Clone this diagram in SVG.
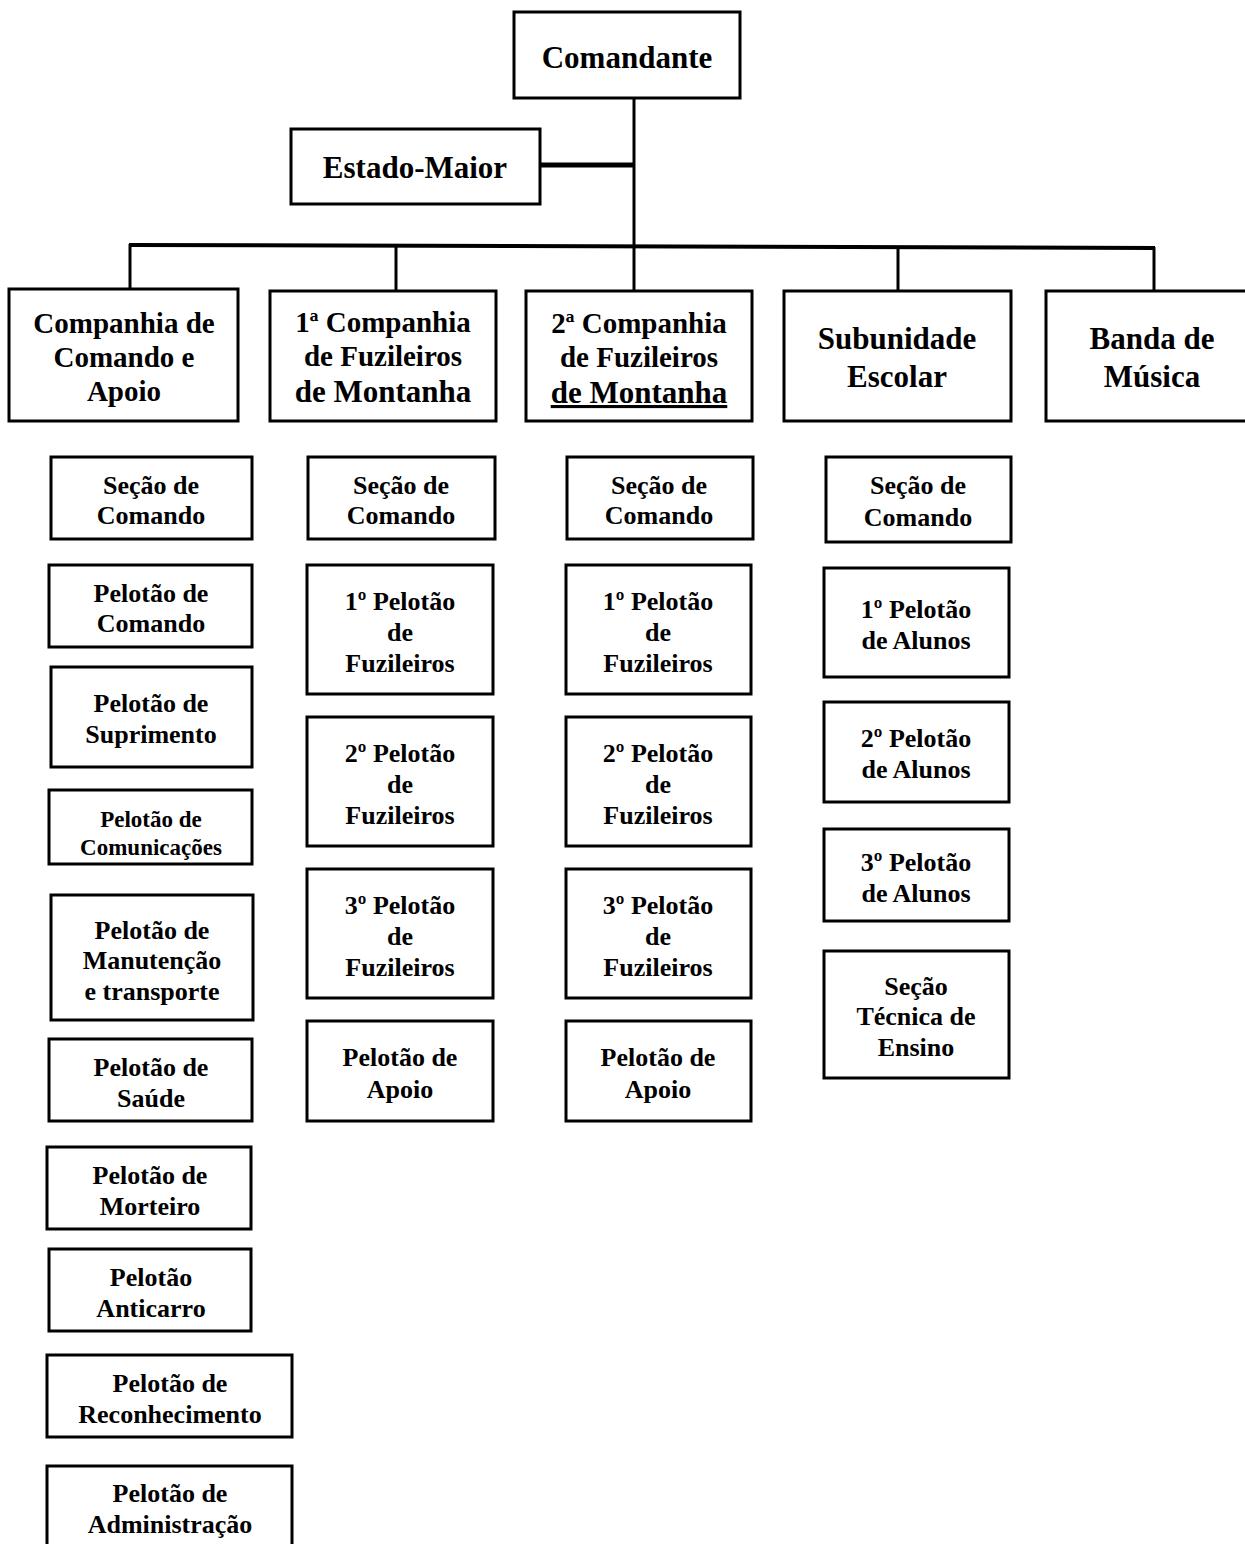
<svg xmlns="http://www.w3.org/2000/svg" width="1245" height="1544" viewBox="0 0 1245 1544">
<style>
rect{fill:#fff;stroke:#000;stroke-width:3}
text{font-family:"Liberation Serif","Times New Roman",serif;font-weight:bold;text-anchor:middle;fill:#000}
.t1{font-size:31px}
.t2{font-size:29px}
.t3{font-size:26px}
.t4{font-size:23px}
.c line{stroke:#000;stroke-width:3}
</style>
<rect x="0" y="0" width="1245" height="1544" style="stroke:none"/>
<g class="c" id="connectors">
<line x1="634" y1="98" x2="634" y2="248"/>
<line x1="540" y1="165" x2="634" y2="165" style="stroke-width:5"/>
<line x1="129" y1="245" x2="1155" y2="248" style="stroke-width:4"/>
<line x1="130" y1="244" x2="130" y2="289"/>
<line x1="396" y1="247" x2="396" y2="291"/>
<line x1="634" y1="247" x2="634" y2="291"/>
<line x1="898" y1="248" x2="898" y2="291"/>
<line x1="1154" y1="247" x2="1154" y2="291"/>
</g>
<g id="comandante"><rect x="514" y="12" width="226" height="86"/><text class="t1" x="627" y="68">Comandante</text></g>
<g id="estado-maior"><rect x="291" y="129" width="249" height="75"/><text class="t1" x="415" y="178">Estado-Maior</text></g>

<g id="cia-cmdo-apoio"><rect x="9" y="289" width="229" height="132"/>
<text class="t2" x="124" y="333">Companhia de</text><text class="t2" x="124" y="367">Comando e</text><text class="t2" x="124" y="401">Apoio</text></g>
<g id="cia-1"><rect x="270" y="291" width="226" height="130"/>
<text class="t2" x="383" y="332">1ª Companhia</text><text class="t2" x="383" y="366">de Fuzileiros</text><text class="t1" x="383" y="402">de Montanha</text></g>
<g id="cia-2"><rect x="526" y="291" width="226" height="130"/>
<text class="t2" x="639" y="333">2ª Companhia</text><text class="t2" x="639" y="367">de Fuzileiros</text><text class="t1" x="639" y="403" style="text-decoration:underline">de Montanha</text></g>
<g id="subunidade-escolar"><rect x="784" y="291" width="227" height="130"/>
<text class="t1" x="897" y="349">Subunidade</text><text class="t1" x="897" y="387">Escolar</text></g>
<g id="banda-musica"><rect x="1046" y="291" width="220" height="130"/>
<text class="t1" x="1152" y="349">Banda de</text><text class="t1" x="1152" y="387">Música</text></g>

<!-- column 1 -->
<g id="c1-secao"><rect x="51" y="457" width="201" height="82"/><text class="t3" x="151" y="494">Seção de</text><text class="t3" x="151" y="524">Comando</text></g>
<g id="c1-pel-cmdo"><rect x="49" y="565" width="203" height="82"/><text class="t3" x="151" y="602">Pelotão de</text><text class="t3" x="151" y="632">Comando</text></g>
<g id="c1-pel-sup"><rect x="51" y="667" width="201" height="100"/><text class="t3" x="151" y="712">Pelotão de</text><text class="t3" x="151" y="743">Suprimento</text></g>
<g id="c1-pel-com"><rect x="49" y="790" width="203" height="74"/><text class="t4" x="151" y="827">Pelotão de</text><text class="t4" x="151" y="855">Comunicações</text></g>
<g id="c1-pel-mnt"><rect x="51" y="895" width="202" height="125"/><text class="t3" x="152" y="939">Pelotão de</text><text class="t3" x="152" y="969">Manutenção</text><text class="t3" x="152" y="1000">e transporte</text></g>
<g id="c1-pel-sau"><rect x="49" y="1039" width="203" height="82"/><text class="t3" x="151" y="1076">Pelotão de</text><text class="t3" x="151" y="1107">Saúde</text></g>
<g id="c1-pel-mrt"><rect x="47" y="1147" width="204" height="82"/><text class="t3" x="150" y="1184">Pelotão de</text><text class="t3" x="150" y="1215">Morteiro</text></g>
<g id="c1-pel-ac"><rect x="49" y="1249" width="202" height="82"/><text class="t3" x="151" y="1286">Pelotão</text><text class="t3" x="151" y="1317">Anticarro</text></g>
<g id="c1-pel-rec"><rect x="47" y="1355" width="245" height="82"/><text class="t3" x="170" y="1392">Pelotão de</text><text class="t3" x="170" y="1423">Reconhecimento</text></g>
<g id="c1-pel-adm"><rect x="47" y="1466" width="245" height="100"/><text class="t3" x="170" y="1502">Pelotão de</text><text class="t3" x="170" y="1533">Administração</text></g>

<!-- column 2 -->
<g id="c2-secao"><rect x="308" y="457" width="187" height="82"/><text class="t3" x="401" y="494">Seção de</text><text class="t3" x="401" y="524">Comando</text></g>
<g id="c2-pel1"><rect x="307" y="565" width="186" height="129"/><text class="t3" x="400" y="610">1º Pelotão</text><text class="t3" x="400" y="641">de</text><text class="t3" x="400" y="672">Fuzileiros</text></g>
<g id="c2-pel2"><rect x="307" y="717" width="186" height="129"/><text class="t3" x="400" y="762">2º Pelotão</text><text class="t3" x="400" y="793">de</text><text class="t3" x="400" y="824">Fuzileiros</text></g>
<g id="c2-pel3"><rect x="307" y="869" width="186" height="129"/><text class="t3" x="400" y="914">3º Pelotão</text><text class="t3" x="400" y="945">de</text><text class="t3" x="400" y="976">Fuzileiros</text></g>
<g id="c2-apoio"><rect x="307" y="1021" width="186" height="100"/><text class="t3" x="400" y="1066">Pelotão de</text><text class="t3" x="400" y="1098">Apoio</text></g>

<!-- column 3 -->
<g id="c3-secao"><rect x="567" y="457" width="186" height="82"/><text class="t3" x="659" y="494">Seção de</text><text class="t3" x="659" y="524">Comando</text></g>
<g id="c3-pel1"><rect x="566" y="565" width="185" height="129"/><text class="t3" x="658" y="610">1º Pelotão</text><text class="t3" x="658" y="641">de</text><text class="t3" x="658" y="672">Fuzileiros</text></g>
<g id="c3-pel2"><rect x="566" y="717" width="185" height="129"/><text class="t3" x="658" y="762">2º Pelotão</text><text class="t3" x="658" y="793">de</text><text class="t3" x="658" y="824">Fuzileiros</text></g>
<g id="c3-pel3"><rect x="566" y="869" width="185" height="129"/><text class="t3" x="658" y="914">3º Pelotão</text><text class="t3" x="658" y="945">de</text><text class="t3" x="658" y="976">Fuzileiros</text></g>
<g id="c3-apoio"><rect x="566" y="1021" width="185" height="100"/><text class="t3" x="658" y="1066">Pelotão de</text><text class="t3" x="658" y="1098">Apoio</text></g>

<!-- column 4 -->
<g id="c4-secao"><rect x="826" y="457" width="185" height="85"/><text class="t3" x="918" y="494">Seção de</text><text class="t3" x="918" y="526">Comando</text></g>
<g id="c4-pel1"><rect x="824" y="568" width="185" height="109"/><text class="t3" x="916" y="618">1º Pelotão</text><text class="t3" x="916" y="649">de Alunos</text></g>
<g id="c4-pel2"><rect x="824" y="702" width="185" height="100"/><text class="t3" x="916" y="747">2º Pelotão</text><text class="t3" x="916" y="778">de Alunos</text></g>
<g id="c4-pel3"><rect x="824" y="829" width="185" height="92"/><text class="t3" x="916" y="871">3º Pelotão</text><text class="t3" x="916" y="902">de Alunos</text></g>
<g id="c4-ste"><rect x="824" y="951" width="185" height="127"/><text class="t3" x="916" y="995">Seção</text><text class="t3" x="916" y="1025">Técnica de</text><text class="t3" x="916" y="1056">Ensino</text></g>
</svg>
